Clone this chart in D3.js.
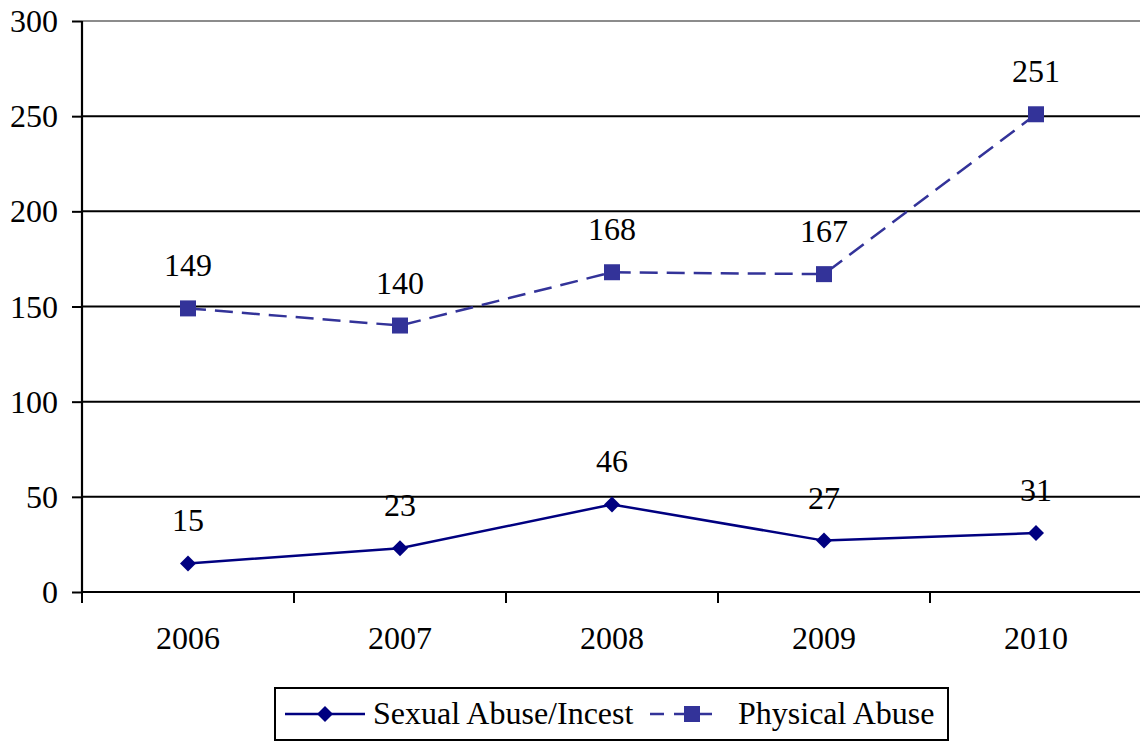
<!DOCTYPE html>
<html>
<head>
<meta charset="utf-8">
<script src="https://cdn.jsdelivr.net/npm/d3@7"></script>
<style>
  html, body { margin: 0; padding: 0; background: #fff; }
  svg { display: block; }
</style>
</head>
<body>
<svg id="chart" width="1140" height="742"></svg>
<script>
const years = ["2006", "2007", "2008", "2009", "2010"];
const sexualAbuse = [15, 23, 46, 27, 31];
const physicalAbuse = [149, 140, 168, 167, 251];
const yTicks = [0, 50, 100, 150, 200, 250, 300];
const seriesNames = ["Sexual Abuse/Incest", "Physical Abuse"];

const svg = d3.select("#chart");
const FONT = 32;
const FAMILY = "'Liberation Serif'";
const plotL = 82, plotR = 1142, plotT = 21, plotB = 592;

const x = d3.scaleBand().domain(years).range([plotL, plotR]);
const y = d3.scaleLinear().domain([0, 300]).range([plotB, plotT]);

function styleText(sel) {
  return sel.attr("font-size", FONT).style("font-family", FAMILY).attr("fill", "#000");
}

// gridlines
svg.append("g").selectAll("line").data(yTicks.filter(d => d > 0)).join("line")
  .attr("x1", plotL).attr("x2", 1140)
  .attr("y1", d => y(d)).attr("y2", d => y(d))
  .attr("stroke", d => d === 300 ? "#8c8c8c" : "#000")
  .attr("stroke-width", 2);

// y axis (labels drawn separately)
const yAxis = svg.append("g").attr("transform", `translate(${plotL},0)`)
  .call(d3.axisLeft(y).tickValues(yTicks).tickSize(10).tickFormat(""));
yAxis.select(".domain").attr("stroke", "#000").attr("stroke-width", 2.2).attr("d", `M0,${plotT}V${plotB}`);
yAxis.selectAll(".tick line").attr("stroke", "#000").attr("stroke-width", 2);
styleText(svg.append("g").selectAll("text").data(yTicks).join("text"))
  .attr("x", plotL - 24).attr("y", d => y(d) + 11)
  .attr("text-anchor", "end")
  .text(d => d);

// x axis line
svg.append("line").attr("x1", plotL).attr("x2", 1140).attr("y1", plotB).attr("y2", plotB)
  .attr("stroke", "#000").attr("stroke-width", 2.2);
// x tick marks at band edges
svg.append("g").selectAll("line").data(years).join("line")
  .attr("x1", d => x(d)).attr("x2", d => x(d))
  .attr("y1", plotB).attr("y2", plotB + 11)
  .attr("stroke", "#000").attr("stroke-width", 2);
// x labels
styleText(svg.append("g").selectAll("text").data(years).join("text"))
  .attr("x", d => x(d) + x.bandwidth() / 2)
  .attr("y", plotB + 57)
  .attr("text-anchor", "middle")
  .text(d => d);

const cx = d => x(d) + x.bandwidth() / 2;

function drawSeries(values, color, dash, shape, size, rot) {
  const pts = years.map((yr, i) => ({ yr, v: values[i] }));
  const line = d3.line().x(d => cx(d.yr)).y(d => y(d.v));
  svg.append("path").datum(pts).attr("d", line)
    .attr("fill", "none").attr("stroke", color).attr("stroke-width", 2.5)
    .attr("stroke-dasharray", dash);
  svg.append("g").selectAll("path").data(pts).join("path")
    .attr("d", d3.symbol().type(shape).size(size))
    .attr("transform", d => `translate(${cx(d.yr)},${y(d.v)})` + (rot ? " rotate(45)" : ""))
    .attr("fill", color);
  styleText(svg.append("g").selectAll("text").data(pts).join("text"))
    .attr("x", d => cx(d.yr)).attr("y", d => y(d.v) - 32)
    .attr("text-anchor", "middle")
    .text(d => d.v);
}

drawSeries(physicalAbuse, "#333399", "18,9", d3.symbolSquare, 256, false);
drawSeries(sexualAbuse, "#000080", null, d3.symbolSquare, 128, true);

// legend
const lg = svg.append("g");
lg.append("rect").attr("x", 275).attr("y", 688).attr("width", 673).attr("height", 52)
  .attr("fill", "#fff").attr("stroke", "#000").attr("stroke-width", 2);
// sexual
lg.append("line").attr("x1", 285).attr("x2", 365).attr("y1", 714).attr("y2", 714)
  .attr("stroke", "#000080").attr("stroke-width", 2.5);
lg.append("path").attr("d", d3.symbol().type(d3.symbolSquare).size(128))
  .attr("transform", "translate(325,714) rotate(45)").attr("fill", "#000080");
styleText(lg.append("text")).attr("x", 373).attr("y", 724).text(seriesNames[0]);
// physical
lg.append("line").attr("x1", 650).attr("x2", 722).attr("y1", 714).attr("y2", 714)
  .attr("stroke", "#333399").attr("stroke-width", 2.5).attr("stroke-dasharray", "14,10");
lg.append("path").attr("d", d3.symbol().type(d3.symbolSquare).size(256))
  .attr("transform", "translate(692,714)").attr("fill", "#333399");
styleText(lg.append("text")).attr("x", 738).attr("y", 724).text(seriesNames[1]);
</script>
</body>
</html>
